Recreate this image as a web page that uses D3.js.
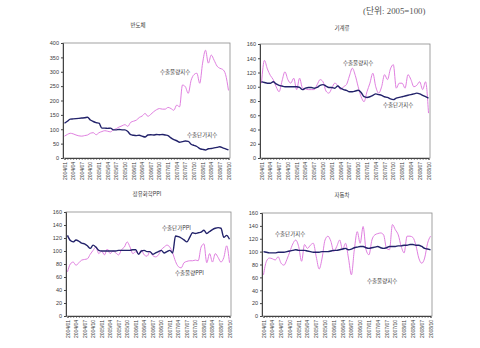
<!DOCTYPE html>
<html>
<head>
<meta charset="utf-8">
<script src="https://cdn.jsdelivr.net/npm/d3@7"></script>
<style>
  body { margin: 0; background: #fff; }
  text { font-family: "Noto Sans CJK KR", "DejaVu Sans", sans-serif; fill: #3a3a3a; }
</style>
</head>
<body>
<svg id="chart" width="480" height="348"></svg>
<script>
// months 2004/01 .. 2008/10
const months = [
  "2004/01","2004/02","2004/03","2004/04","2004/05","2004/06","2004/07","2004/08","2004/09","2004/10","2004/11","2004/12",
  "2005/01","2005/02","2005/03","2005/04","2005/05","2005/06","2005/07","2005/08","2005/09","2005/10","2005/11","2005/12",
  "2006/01","2006/02","2006/03","2006/04","2006/05","2006/06","2006/07","2006/08","2006/09","2006/10","2006/11","2006/12",
  "2007/01","2007/02","2007/03","2007/04","2007/05","2007/06","2007/07","2007/08","2007/09","2007/10","2007/11","2007/12",
  "2008/01","2008/02","2008/03","2008/04","2008/05","2008/06","2008/07","2008/08","2008/09","2008/10"
];
const tickLabels = months.filter((m, i) => i % 3 === 0);

// 반도체
const semiVolume = [76,82,86,84,80,77,76,78,80,86,88,81,88,92,95,93,91,98,102,108,112,116,110,124,128,132,141,146,155,145,
  152,161,168,172,170,170,176,172,166,184,178,254,248,225,270,290,295,260,330,375,330,358,340,320,312,308,290,235];
const semiPrice = [121,128,135,136,137,138,139,140,142,132,127,123,121,104,104,103,104,98,98,99,98,98,92,81,79,78,79,76,73,80,
  81,80,82,81,82,80,78,70,64,60,55,57,59,58,48,44,40,33,30,28,32,33,35,37,39,35,32,28];

// 기계류
const machVolume = [105,137,125,116,110,100,93,108,121,110,105,112,96,112,98,97,96,96,96,103,110,107,94,91,98,105,102,96,100,103,
  115,126,116,100,86,79,93,105,119,100,91,100,117,110,125,131,98,105,105,98,117,110,100,102,107,96,107,63];
const machPrice = [107,106,105,105,107,104,102,101,100,100,100,100,100,99,96,98,99,99,98,99,102,103,101,99,99,98,101,98,96,95,
  93,93,94,95,92,86,85,86,88,90,89,88,86,85,83,82,84,85,86,87,88,89,90,91,90,88,86,84];

// 정유화학
const petroVolume = [68,80,83,78,82,86,87,88,95,101,106,96,100,94,103,96,100,97,94,102,106,114,106,96,99,96,101,94,92,99,
  93,91,94,102,106,109,106,97,84,76,74,82,84,85,85,86,85,106,111,82,96,83,96,90,83,90,108,82];
const petroPrice = [124,116,114,117,115,112,111,108,104,109,106,101,100,100,100,100,100,100,101,101,101,101,101,102,102,95,100,101,99,99,
  95,97,99,101,97,99,101,97,123,122,120,117,114,121,128,127,128,129,132,127,130,133,135,136,135,121,124,118];

// 자동차
const carVolume = [64,85,90,89,87,92,82,79,88,100,112,118,108,85,111,105,110,113,92,73,90,118,124,116,100,108,118,103,113,90,
  64,103,131,113,139,103,95,118,126,128,129,126,105,103,142,134,126,108,98,124,124,122,110,90,82,90,113,124];
const carPrice = [100,99,98,98,98,99,99,99,100,101,102,103,102,102,102,101,100,99,99,99,100,100,100,101,102,102,103,104,105,103,
  104,106,107,108,108,106,105,106,107,108,106,105,106,108,108,108,109,109,110,110,111,111,110,110,108,105,104,103];

const svg = d3.select("#chart");
const pink = "#e07fe0", navy = "#22226a";

svg.append("text")
   .attr("x", 363).attr("y", 14)
   .style("font-family", "'Liberation Serif', 'Noto Sans CJK KR', serif")
   .style("font-size", "8.8px").style("fill", "#555")
   .text("(단위: 2005=100)");

function drawPanel(p) {
   const g = svg.append("g");
   const x = d3.scaleLinear().domain([0, months.length - 1]).range([p.left + 1.5, p.right - 1.5]);
   const y = d3.scaleLinear().domain([0, p.ymax]).range([p.bottom, p.top]);

   g.append("rect")
      .attr("x", p.left).attr("y", p.top)
      .attr("width", p.right - p.left).attr("height", p.bottom - p.top)
      .attr("fill", "none").attr("stroke", "#8a8a8a").attr("stroke-width", 0.8);

   const yAxis = g.append("g").attr("transform", `translate(${p.left},0)`)
      .call(d3.axisLeft(y).tickValues(d3.range(0, p.ymax + 1, p.step)).tickSize(2).tickPadding(2));
   yAxis.select(".domain").attr("stroke", "#444");
   yAxis.selectAll("line").attr("stroke", "#444");
   yAxis.selectAll("text").style("font-size", "5.5px").style("font-family", "'Liberation Sans', sans-serif").style("fill", "#3a3a3a");

   const xAxis = g.append("g").attr("transform", `translate(0,${p.bottom})`)
      .call(d3.axisBottom(x).tickValues(d3.range(months.length)).tickSize(2).tickFormat(""));
   xAxis.select(".domain").attr("stroke", "#444");
   xAxis.selectAll("line").attr("stroke", "#444").attr("stroke-width", 0.6);

   g.selectAll(".xl").data(tickLabels).enter().append("text")
      .attr("transform", (d, i) => `translate(${x(i * 3) + 2},${p.bottom + 4}) rotate(-90)`)
      .attr("text-anchor", "end")
      .style("font-size", "5px").style("font-family", "'Liberation Sans', sans-serif")
      .text(d => d);

   const line = d3.line().x((d, i) => x(i)).y(d => y(d)).curve(d3.curveMonotoneX);
   g.append("path").datum(p.volume).attr("d", line)
      .attr("fill", "none").attr("stroke", pink).attr("stroke-width", 1);
   g.append("path").datum(p.price).attr("d", line)
      .attr("fill", "none").attr("stroke", navy).attr("stroke-width", 1.4);

   g.append("text").attr("x", p.tx).attr("y", p.ty).attr("text-anchor", "middle")
      .style("font-size", "5.5px").text(p.title);
   p.labels.forEach(l => {
      g.append("text").attr("x", l[0]).attr("y", l[1])
         .style("font-size", "5.5px").text(l[2]);
   });
}

drawPanel({ title: "반도체", tx: 138, ty: 27, left: 63, right: 230, top: 43, bottom: 158, ymax: 400, step: 50,
   volume: semiVolume, price: semiPrice,
   labels: [[160, 74, "수출물량지수"], [187, 137, "수출단가지수"]] });
drawPanel({ title: "기계류", tx: 342, ty: 30, left: 260, right: 430, top: 44, bottom: 158, ymax: 160, step: 20,
   volume: machVolume, price: machPrice,
   labels: [[343, 65, "수출물량지수"], [383, 107, "수출단가지수"]] });
drawPanel({ title: "정유화학PPI", tx: 147, ty: 196, left: 66, right: 231, top: 212, bottom: 316, ymax: 160, step: 20,
   volume: petroVolume, price: petroPrice,
   labels: [[162, 230, "수출단가PPI"], [175, 275, "수출물량PPI"]] });
drawPanel({ title: "자동차", tx: 342, ty: 197, left: 262, right: 432, top: 213, bottom: 316, ymax: 160, step: 20,
   volume: carVolume, price: carPrice,
   labels: [[275, 236, "수출단가지수"], [367, 283, "수출물량지수"]] });
</script>
</body>
</html>
